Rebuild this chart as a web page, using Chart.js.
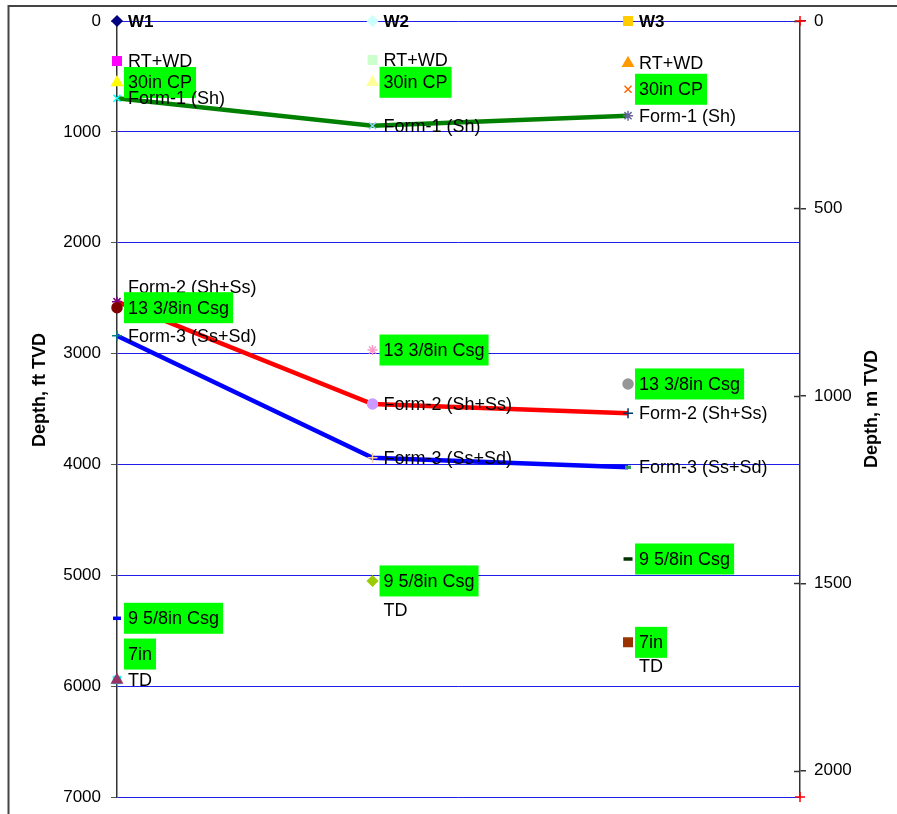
<!DOCTYPE html>
<html>
<head>
<meta charset="utf-8">
<script src="https://cdn.jsdelivr.net/npm/chart.js@4.4.1/dist/chart.umd.min.js"></script>
<style>
  html, body { margin: 0; padding: 0; background: #fff; }
  canvas { display: block; }
</style>
</head>
<body>
<canvas id="wellChart" width="897" height="814"></canvas>
<script>
// wells across the section
const wellNames = ['W1', 'W2', 'W3'];
const wellX = [1, 2, 3];

// picks per well, depth in ft TVD
const w1Labels = ['W1', 'RT+WD', '30in CP', 'Form-1 (Sh)', 'Form-2 (Sh+Ss)', '13 3/8in Csg', 'Form-3 (Ss+Sd)', '9 5/8in Csg', '7in', 'TD'];
const w1Depth = [0, 360, 555, 697, 2532, 2586, 2839, 5388, 5945, 5945];

const w2Labels = ['W2', 'RT+WD', '30in CP', 'Form-1 (Sh)', '13 3/8in Csg', 'Form-2 (Sh+Ss)', 'Form-3 (Ss+Sd)', '9 5/8in Csg', 'TD'];
const w2Depth = [0, 352, 553, 945, 2968, 3455, 3939, 5051, 5313];

const w3Labels = ['W3', 'RT+WD', '30in CP', 'Form-1 (Sh)', '13 3/8in Csg', 'Form-2 (Sh+Ss)', 'Form-3 (Ss+Sd)', '9 5/8in Csg', '7in', 'TD'];
const w3Depth = [0, 382, 616, 854, 3274, 3539, 4026, 4853, 5605, 5818];

// formation tops correlated W1 -> W2 -> W3
const form1Top = [697, 945, 854];
const form2Top = [2532, 3455, 3539];
const form3Top = [2839, 3939, 4026];

// axis ranges
const ftTicks = [0, 1000, 2000, 3000, 4000, 5000, 6000, 7000];
const mTicks = [0, 500, 1000, 1500, 2000];
const mAxisEnds = [0, 2070];
const X_MAX = 3.673;

const FONT = '"Liberation Sans", Arial, Helvetica, sans-serif';
const BOXED = ['30in CP', '13 3/8in Csg', '9 5/8in Csg', '7in'];

// marker look per pick: [style, colour, radius]
const w1Marks = [
  ['rectRot', '#000080', 5], ['rect', '#ff00ff', 6], ['triangle', '#ffff00', 6], ['crossRot', '#00ffff', 5],
  ['star', '#800080', 5], ['circle', '#800000', 5], ['cross', '#008080', 5], ['line', '#0000ff', 4],
  ['rect', '#00ffff', 5], ['triangle', '#993366', 6]
];
const w2Marks = [
  ['rectRot', '#ccffff', 5], ['rect', '#ccffcc', 6], ['triangle', '#ffff99', 6], ['crossRot', '#99ccff', 5],
  ['star', '#ff99cc', 5], ['circle', '#cc99ff', 5], ['cross', '#ffcc99', 5], ['rectRot', '#99cc00', 5],
  ['circle', '#ffffff', 0]
];
const w3Marks = [
  ['rect', '#ffcc00', 6], ['triangle', '#ff9900', 6], ['crossRot', '#ff6600', 5], ['star', '#666699', 5],
  ['circle', '#969696', 5], ['cross', '#003366', 5], ['line', '#339966', 3], ['line', '#003300', 4.5],
  ['rect', '#993300', 6], ['circle', '#ffffff', 0]
];
// labels nudged off their marker (px)
const labelShift = [{ 4: -15, 8: -26 }, {}, {}];

const wellLabels = [w1Labels, w2Labels, w3Labels];
const wellDepths = [w1Depth, w2Depth, w3Depth];
const wellMarks = [w1Marks, w2Marks, w3Marks];

const wellSets = wellNames.map((name, i) => ({
  label: name,
  data: wellDepths[i].map(d => ({ x: wellX[i], y: d })),
  pointStyle: wellMarks[i].map(m => m[0]),
  pointBackgroundColor: wellMarks[i].map(m => m[1]),
  pointBorderColor: wellMarks[i].map(m => m[1]),
  pointRadius: wellMarks[i].map(m => m[2]),
  pointBorderWidth: wellMarks[i].map(m => (m[0] === 'line' ? 3.5 : 1.5)),
  showLine: false,
  clip: false,
  order: 0
}));

const topLine = (name, tops, color) => ({
  label: name,
  data: tops.map((d, i) => ({ x: wellX[i], y: d })),
  showLine: true,
  borderColor: color,
  borderWidth: 4.5,
  pointRadius: 0,
  tension: 0,
  clip: false,
  order: 1
});

const frame = {
  id: 'frame',
  beforeDraw(chart) {
    const ctx = chart.ctx;
    ctx.save();
    ctx.strokeStyle = '#444';
    ctx.lineWidth = 2;
    ctx.beginPath();
    ctx.moveTo(8.5, chart.height);
    ctx.lineTo(8.5, 6);
    ctx.lineTo(chart.width, 6);
    ctx.stroke();
    ctx.restore();
  }
};

// right axis ticks cross the axis line, titles read bottom-up on both sides
const axisExtras = {
  id: 'axisExtras',
  beforeDatasetsDraw(chart) {
    const ctx = chart.ctx, s = chart.scales.y2;
    ctx.save();
    ctx.strokeStyle = '#333';
    ctx.lineWidth = 1.5;
    s.ticks.forEach(t => {
      const py = Math.round(s.getPixelForValue(t.value)) + 0.5;
      ctx.beginPath();
      ctx.moveTo(s.left - 6, py);
      ctx.lineTo(s.left, py);
      ctx.stroke();
    });
    ctx.restore();
  },
  afterDraw(chart) {
    const ctx = chart.ctx, a = chart.chartArea;
    const title = (text, x, y) => {
      ctx.save();
      ctx.translate(x, y);
      ctx.rotate(-Math.PI / 2);
      ctx.font = 'bold 18px ' + FONT;
      ctx.fillStyle = '#000';
      ctx.textAlign = 'center';
      ctx.textBaseline = 'middle';
      ctx.fillText(text, 0, 0);
      ctx.restore();
    };
    title('Depth, ft TVD', 40, (a.top + a.bottom) / 2 - 19);
    title('Depth, m TVD', 872, (a.top + a.bottom) / 2);
  }
};

const pickLabels = {
  id: 'pickLabels',
  afterDatasetsDraw(chart) {
    const ctx = chart.ctx;
    ctx.save();
    ctx.textAlign = 'left';
    ctx.textBaseline = 'middle';
    wellNames.forEach((w, wi) => {
      chart.getDatasetMeta(wi).data.forEach((pt, i) => {
        const text = wellLabels[wi][i];
        ctx.font = (i === 0 ? 'bold 17px ' : '18px ') + FONT;
        const tx = pt.x + 11;
        const ty = pt.y + (labelShift[wi][i] || 0);
        if (BOXED.includes(text)) {
          const tw = ctx.measureText(text).width;
          ctx.fillStyle = '#00ff00';
          ctx.fillRect(tx - 4, ty - 15.5, tw + 8, 31);
        }
        ctx.fillStyle = '#000';
        ctx.fillText(text, tx, ty + 1);
      });
    });
    ctx.restore();
  }
};

const fitSide = w => s => { s.width = w; s.paddingTop = 0; s.paddingBottom = 0; };

new Chart(document.getElementById('wellChart'), {
  type: 'scatter',
  data: {
    datasets: [
      ...wellSets,
      topLine('Form-1', form1Top, '#008000'),
      topLine('Form-2', form2Top, '#ff0000'),
      topLine('Form-3', form3Top, '#0000ff'),
      {
        label: 'm axis',
        yAxisID: 'y2',
        data: mAxisEnds.map(v => ({ x: X_MAX, y: v })),
        pointStyle: 'cross',
        pointRadius: 5,
        pointBorderColor: '#ff0000',
        pointBorderWidth: 1.5,
        showLine: false,
        clip: false,
        order: 0
      }
    ]
  },
  options: {
    responsive: false,
    animation: false,
    layout: { padding: { top: 21, bottom: 17, left: 0, right: 0 } },
    plugins: { legend: { display: false }, tooltip: { enabled: false } },
    scales: {
      x: { type: 'linear', min: wellX[0], max: X_MAX, display: false },
      y: {
        type: 'linear', position: 'left', reverse: true,
        min: ftTicks[0], max: ftTicks[ftTicks.length - 1],
        afterFit: fitSide(117),
        afterBuildTicks: s => { s.ticks = ftTicks.map(v => ({ value: v })); },
        ticks: { color: '#000', padding: 10, font: { family: FONT, size: 17 }, callback: v => String(v) },
        grid: { color: '#1f1fe8', lineWidth: 1, tickColor: '#555', tickLength: 6 },
        border: { display: true, color: '#333', width: 1.5 }
      },
      y2: {
        type: 'linear', position: 'right', reverse: true,
        min: mAxisEnds[0], max: mAxisEnds[1],
        afterFit: fitSide(97),
        afterBuildTicks: s => { s.ticks = mTicks.map(v => ({ value: v })); },
        ticks: { color: '#000', padding: 8, font: { family: FONT, size: 17 }, callback: v => String(v) },
        grid: { drawOnChartArea: false, tickColor: '#333', tickLength: 6, lineWidth: 1.5 },
        border: { display: true, color: '#333', width: 1.5 }
      }
    }
  },
  plugins: [frame, axisExtras, pickLabels]
});
</script>
</body>
</html>
